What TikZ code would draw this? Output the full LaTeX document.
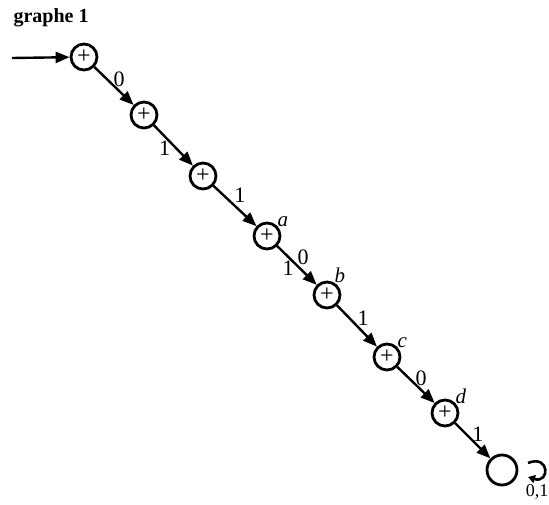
\documentclass[tikz,border=0pt]{standalone}
\usepackage{fontspec}
\setmainfont{Liberation Serif}
\usetikzlibrary{arrows.meta}

\begin{document}
\begin{tikzpicture}[x=1pt,y=-1pt,
  etat/.style={circle,draw,line width=2.8pt,minimum size=26pt,inner sep=0pt,font=\fontsize{24}{24}\selectfont},
  link/.style={-{Triangle[length=14pt,width=11pt]},line width=2.4pt},
  lbl/.style={font=\fontsize{22}{24}\selectfont},
  tag/.style={font=\fontsize{21}{22}\selectfont\itshape,label distance=-5pt}]
\useasboundingbox (0,0) rectangle (549,505);
\node[font=\fontsize{20}{22}\selectfont\bfseries,anchor=west] (title) at (10,18) {graphe 1};
\coordinate (start) at (12,58);
\node[etat] (s0) at (84,57) {+};
\node[etat] (s1) at (144,115) {+};
\node[etat] (s2) at (203,176) {+};
\node[etat,label={[tag]40:a}] (s3) at (267,236) {+};
\node[etat,label={[tag]65:b}] (s4) at (327,295) {+};
\node[etat,label={[tag]40:c}] (s5) at (387,357) {+};
\node[etat,label={[tag]40:d}] (s6) at (445,413) {+};
\node[etat,minimum size=30pt] (s7) at (502,470) {};
\coordinate (l1) at (528,463);
\coordinate (l2) at (528,477);
\draw[link] (start) -- (s0);
\draw[link] (s0) -- node[lbl,above right=-5pt] {0} (s1);
\draw[link] (s1) -- node[lbl,below left=-5pt,pos=.4] {1} (s2);
\draw[link] (s2) -- node[lbl,above right=-3pt,pos=.45] {1} (s3);
\draw[link] (s3) -- node[lbl,above right=-4pt] {0} node[lbl,below left=-5pt,pos=.4] {1} (s4);
\draw[link] (s4) -- node[lbl,above right=-4pt] {1} (s5);
\draw[link] (s5) -- node[lbl,above right=-5pt] {0} (s6);
\draw[link] (s6) -- node[lbl,above right=-5pt] {1} (s7);
\draw[link,line width=2.6pt,-{Triangle[length=7pt,width=8pt]}] (l1) .. controls (550,454) and (550,484) .. (l2);
\node[lbl,font=\fontsize{18}{18}\selectfont] (loop) at (537,492) {0,1};
\end{tikzpicture}
\end{document}
